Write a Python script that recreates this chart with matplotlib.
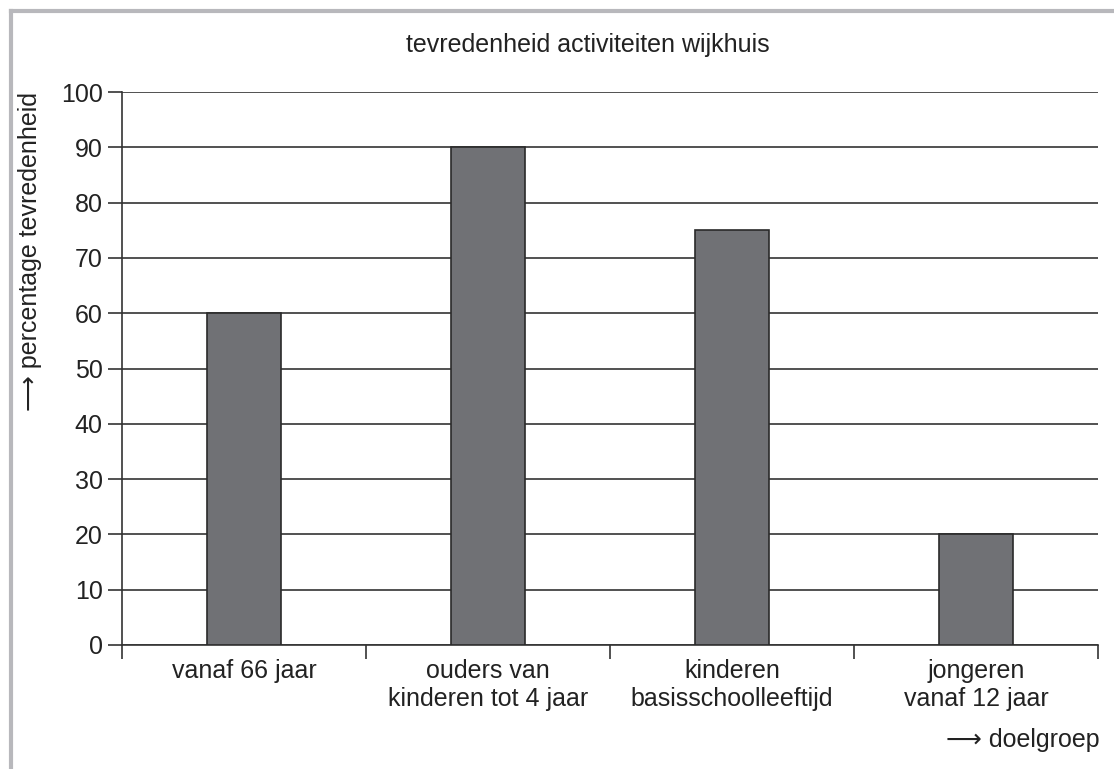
import matplotlib
matplotlib.use("Agg")
import matplotlib.pyplot as plt
from matplotlib.lines import Line2D

categories = ["vanaf 66 jaar", "ouders van\nkinderen tot 4 jaar",
              "kinderen\nbasisschoolleeftijd", "jongeren\nvanaf 12 jaar"]
values = [60, 90, 75, 20]
yticks = [0, 10, 20, 30, 40, 50, 60, 70, 80, 90, 100]

W, H = 1114, 769
fig = plt.figure(figsize=(W / 100, H / 100), dpi=100)
plt.rcParams['font.family'] = ['Liberation Sans', 'DejaVu Sans']
FS = 18

left, right, top, bottom = 122, 1098, 92, 645
ax = fig.add_axes([left / W, 1 - bottom / H, (right - left) / W, (bottom - top) / H])

x = list(range(len(categories)))
ax.bar(x, values, width=0.30, color="#707175", edgecolor="#2a2a2a", linewidth=1.2, zorder=3)

ax.set_xlim(-0.5, len(categories) - 0.5)
ax.set_ylim(0, 100)
ax.set_yticks(yticks)
ax.set_yticklabels([str(t) for t in yticks], fontsize=FS, color="#222222")
ax.yaxis.grid(True, color="#333333", linewidth=1.2, zorder=1)
ax.set_axisbelow(True)

# category boundary ticks
ax.set_xticks([i - 0.5 for i in range(len(categories) + 1)])
ax.set_xticklabels([])
ax.set_xticks(x, minor=True)
ax.set_xticklabels(categories, minor=True, fontsize=FS, color="#222222", linespacing=1.2)
ax.tick_params(axis='x', which='minor', length=0, pad=10)
ax.tick_params(axis='x', which='major', length=10, width=1.2, color="#333333")
ax.tick_params(axis='y', length=10, width=1.2, color="#333333", pad=4)

for s in ["top", "right"]:
    ax.spines[s].set_visible(False)
for s in ["left", "bottom"]:
    ax.spines[s].set_color("#333333")
    ax.spines[s].set_linewidth(1.2)

fig.text(588 / W, 1 - 45 / H, "tevredenheid activiteiten wijkhuis", ha="center", va="center",
         fontsize=FS, color="#222222")
fig.text(30 / W, 1 - 92 / H, "\u27f6 percentage tevredenheid", rotation=90, ha="center", va="top",
         fontsize=FS, color="#222222")
fig.text(1100 / W, 1 - 740 / H, "\u27f6 doelgroep", ha="right", va="center",
         fontsize=FS, color="#222222")

# partial frame (top & left)
fig.add_artist(Line2D([11 / W, 11 / W], [0, 1 - 11 / H], transform=fig.transFigure,
                      color="#b8b8bc", linewidth=3))
fig.add_artist(Line2D([11 / W, 1], [1 - 11 / H, 1 - 11 / H], transform=fig.transFigure,
                      color="#b8b8bc", linewidth=3))

fig.savefig("out.png", dpi=100)
